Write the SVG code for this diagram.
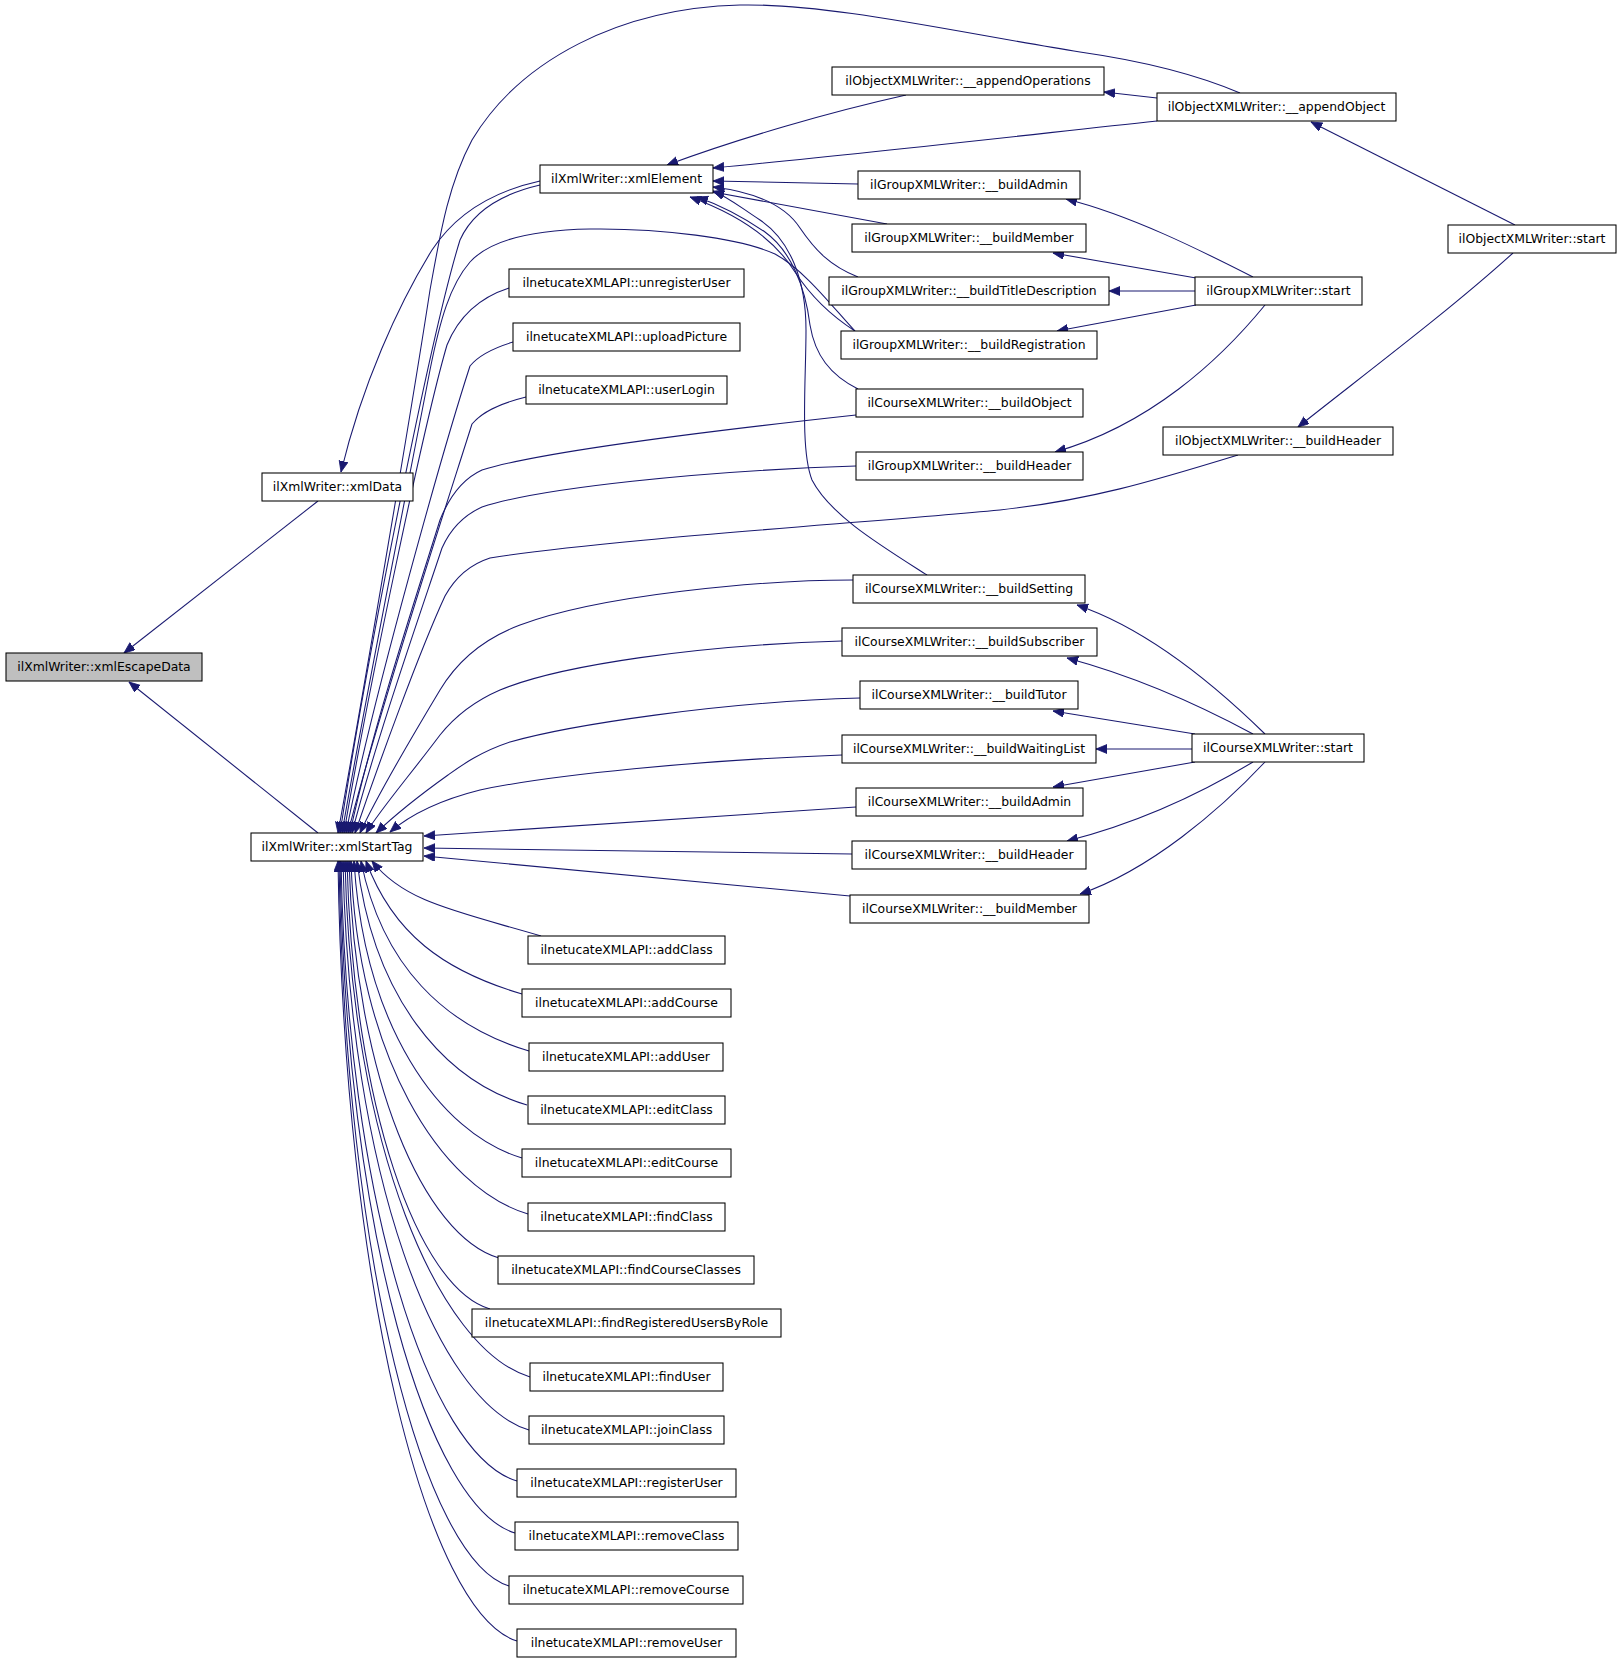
<svg xmlns="http://www.w3.org/2000/svg" width="1621" height="1663" viewBox="0 0 1621 1663">
<defs>
<marker id="ah" markerUnits="userSpaceOnUse" markerWidth="12" markerHeight="10" refX="11" refY="4.5" orient="auto"><path d="M0,0 L11,4.5 L0,9 z" fill="#191970" stroke="#191970" stroke-width="0.8"/></marker>
</defs>
<style>
.node rect{fill:#fff;stroke:#000;stroke-width:1.06}
.node.cur rect{fill:#bfbfbf}
.node text{font-family:"DejaVu Sans","Liberation Sans",sans-serif;font-size:12.4px;text-anchor:middle;fill:#000}
.edges path{fill:none;stroke:#191970;stroke-width:1.06;marker-end:url(#ah)}
</style>
<rect width="1621" height="1663" fill="#fff"/>
<g class="edges">
<path d="M318,501 L124,653"/>
<path d="M318,833 L129,682"/>
<path d="M540,181 C490,192 455,215 432,250 C398,305 362,385 341,472"/>
<path d="M540,185 C497,195 472,213 460,240 C432,330 368,650 340,833"/>
<path d="M1240,93 C1200,76 1150,62 1080,52 C960,33 830,3 740,5 C620,8 520,60 472,140 C448,185 440,235 430,290 C410,420 362,700 338,833"/>
<path d="M855,331 C835,310 805,270 775,254 C740,238 660,228 590,229 C530,230 490,240 470,262 C450,285 440,320 430,370 C405,500 365,700 342,833"/>
<path d="M509,288 C478,298 458,318 447,345 C425,420 368,690 344,833"/>
<path d="M513,342 C490,349 478,356 470,366 C446,440 372,700 346,833"/>
<path d="M526,397 C498,404 482,412 472,424 C448,500 376,720 348,833"/>
<path d="M856,415 C700,432 540,452 482,470 C460,480 448,500 440,520 C415,600 372,730 350,833"/>
<path d="M856,466 C700,471 540,488 482,507 C462,516 450,530 442,548 C418,620 376,740 352,833"/>
<path d="M1238,455 C1150,482 1090,500 1000,510 C850,524 600,540 490,558 C468,565 455,578 445,596 C420,650 380,760 355,833"/>
<path d="M853,580 C760,580 600,595 520,625 C480,640 455,665 440,690 C410,740 375,800 360,833"/>
<path d="M842,641 C700,645 560,665 500,690 C470,703 452,720 440,735 C410,775 380,810 366,833"/>
<path d="M860,698 C720,702 570,725 510,742 C480,752 462,765 448,775 C420,795 395,815 376,833"/>
<path d="M842,755 C700,760 550,775 480,790 C440,800 410,815 390,832"/>
<path d="M856,807 L424,836"/>
<path d="M852,854 L424,848"/>
<path d="M850,896 L424,856"/>
<path d="M541,936 C456,911 404,902 372,861"/>
<path d="M522,994 C444,971 393,934 366,861"/>
<path d="M529,1051 C445,1026 382,966 361,861"/>
<path d="M527,1105 C442,1080 373,995 357,861"/>
<path d="M522,1158 C438,1133 364,1024 354,861"/>
<path d="M528,1214 C440,1188 357,1055 351,861"/>
<path d="M499,1258 C424,1236 355,1079 349,861"/>
<path d="M490,1309 C418,1288 353,1107 347,861"/>
<path d="M530,1377 C438,1349 351,1145 345,861"/>
<path d="M529,1430 C436,1402 349,1174 343,861"/>
<path d="M517,1481 C429,1455 347,1202 341,861"/>
<path d="M515,1533 C428,1507 346,1231 340,861"/>
<path d="M509,1586 C424,1560 345,1260 339,861"/>
<path d="M517,1641 C428,1614 344,1290 338,861"/>
<path d="M906,95 C830,112 740,138 667,165"/>
<path d="M1157,121 C1000,138 850,155 713,168"/>
<path d="M858,184 L713,181"/>
<path d="M887,224 L713,192"/>
<path d="M858,277 C830,266 815,250 800,228 C785,205 755,192 713,187"/>
<path d="M855,331 C830,315 810,295 795,272 C775,240 740,215 690,197"/>
<path d="M858,389 C830,375 815,355 810,325 C805,285 790,250 765,232 C740,215 720,205 697,197"/>
<path d="M927,575 C880,545 830,515 812,480 C800,450 806,380 806,330 C806,280 790,240 760,220 C740,207 728,197 713,191"/>
<path d="M1157,98 L1104,92"/>
<path d="M1515,225 L1311,122"/>
<path d="M1513,253 C1450,310 1370,370 1298,427"/>
<path d="M1253,277 C1200,250 1130,215 1066,199"/>
<path d="M1196,278 L1053,253"/>
<path d="M1195,291 L1109,291"/>
<path d="M1196,305 L1057,331"/>
<path d="M1265,305 C1220,360 1150,425 1055,452"/>
<path d="M1265,734 C1220,690 1150,630 1077,605"/>
<path d="M1253,734 C1190,700 1130,675 1067,658"/>
<path d="M1195,734 L1053,711"/>
<path d="M1192,749 L1096,749"/>
<path d="M1195,762 L1053,787"/>
<path d="M1253,762 C1190,800 1130,825 1067,841"/>
<path d="M1265,762 C1220,810 1150,870 1080,894"/>
</g>
<g id="n_escape" class="node cur"><rect x="6" y="653" width="196" height="28"/><text x="104" y="671.4">ilXmlWriter::xmlEscapeData</text></g>
<g id="n_data" class="node"><rect x="262" y="473" width="151" height="28"/><text x="337.5" y="491.4">ilXmlWriter::xmlData</text></g>
<g id="n_start" class="node"><rect x="251" y="833" width="172" height="28"/><text x="337" y="851.4">ilXmlWriter::xmlStartTag</text></g>
<g id="n_elem" class="node"><rect x="540" y="165" width="173" height="28"/><text x="626.5" y="183.4">ilXmlWriter::xmlElement</text></g>
<g id="n_unreg" class="node"><rect x="509" y="269" width="235" height="28"/><text x="626.5" y="287.4">ilnetucateXMLAPI::unregisterUser</text></g>
<g id="n_upload" class="node"><rect x="513" y="323" width="227" height="28"/><text x="626.5" y="341.4">ilnetucateXMLAPI::uploadPicture</text></g>
<g id="n_login" class="node"><rect x="526" y="376" width="201" height="28"/><text x="626.5" y="394.4">ilnetucateXMLAPI::userLogin</text></g>
<g id="n_addClass" class="node"><rect x="528" y="936" width="197" height="28"/><text x="626.5" y="954.4">ilnetucateXMLAPI::addClass</text></g>
<g id="n_addCourse" class="node"><rect x="522" y="989" width="209" height="28"/><text x="626.5" y="1007.4">ilnetucateXMLAPI::addCourse</text></g>
<g id="n_addUser" class="node"><rect x="529" y="1043" width="194" height="28"/><text x="626" y="1061.4">ilnetucateXMLAPI::addUser</text></g>
<g id="n_editClass" class="node"><rect x="528" y="1096" width="197" height="28"/><text x="626.5" y="1114.4">ilnetucateXMLAPI::editClass</text></g>
<g id="n_editCourse" class="node"><rect x="522" y="1149" width="209" height="28"/><text x="626.5" y="1167.4">ilnetucateXMLAPI::editCourse</text></g>
<g id="n_findClass" class="node"><rect x="528" y="1203" width="197" height="28"/><text x="626.5" y="1221.4">ilnetucateXMLAPI::findClass</text></g>
<g id="n_findCourseClasses" class="node"><rect x="498" y="1256" width="256" height="28"/><text x="626" y="1274.4">ilnetucateXMLAPI::findCourseClasses</text></g>
<g id="n_findRegisteredUsersByRole" class="node"><rect x="472" y="1309" width="309" height="28"/><text x="626.5" y="1327.4">ilnetucateXMLAPI::findRegisteredUsersByRole</text></g>
<g id="n_findUser" class="node"><rect x="530" y="1363" width="193" height="28"/><text x="626.5" y="1381.4">ilnetucateXMLAPI::findUser</text></g>
<g id="n_joinClass" class="node"><rect x="529" y="1416" width="195" height="28"/><text x="626.5" y="1434.4">ilnetucateXMLAPI::joinClass</text></g>
<g id="n_registerUser" class="node"><rect x="517" y="1469" width="219" height="28"/><text x="626.5" y="1487.4">ilnetucateXMLAPI::registerUser</text></g>
<g id="n_removeClass" class="node"><rect x="515" y="1522" width="223" height="28"/><text x="626.5" y="1540.4">ilnetucateXMLAPI::removeClass</text></g>
<g id="n_removeCourse" class="node"><rect x="509" y="1576" width="234" height="28"/><text x="626" y="1594.4">ilnetucateXMLAPI::removeCourse</text></g>
<g id="n_removeUser" class="node"><rect x="517" y="1629" width="219" height="28"/><text x="626.5" y="1647.4">ilnetucateXMLAPI::removeUser</text></g>
<g id="n_appendOperations" class="node"><rect x="832" y="67" width="272" height="28"/><text x="968" y="85.4">ilObjectXMLWriter::__appendOperations</text></g>
<g id="n_appendObject" class="node"><rect x="1157" y="93" width="239" height="28"/><text x="1276.5" y="111.4">ilObjectXMLWriter::__appendObject</text></g>
<g id="n_objStart" class="node"><rect x="1448" y="225" width="168" height="28"/><text x="1532" y="243.4">ilObjectXMLWriter::start</text></g>
<g id="n_objBuildHeader" class="node"><rect x="1163" y="427" width="230" height="28"/><text x="1278" y="445.4">ilObjectXMLWriter::__buildHeader</text></g>
<g id="n_grpBuildAdmin" class="node"><rect x="858" y="171" width="222" height="28"/><text x="969" y="189.4">ilGroupXMLWriter::__buildAdmin</text></g>
<g id="n_grpBuildMember" class="node"><rect x="852" y="224" width="234" height="28"/><text x="969" y="242.4">ilGroupXMLWriter::__buildMember</text></g>
<g id="n_grpBuildTitleDescription" class="node"><rect x="829" y="277" width="280" height="28"/><text x="969" y="295.4">ilGroupXMLWriter::__buildTitleDescription</text></g>
<g id="n_grpBuildRegistration" class="node"><rect x="841" y="331" width="256" height="28"/><text x="969" y="349.4">ilGroupXMLWriter::__buildRegistration</text></g>
<g id="n_crsBuildObject" class="node"><rect x="856" y="389" width="227" height="28"/><text x="969.5" y="407.4">ilCourseXMLWriter::__buildObject</text></g>
<g id="n_grpBuildHeader" class="node"><rect x="856" y="452" width="227" height="28"/><text x="969.5" y="470.4">ilGroupXMLWriter::__buildHeader</text></g>
<g id="n_grpStart" class="node"><rect x="1195" y="277" width="167" height="28"/><text x="1278.5" y="295.4">ilGroupXMLWriter::start</text></g>
<g id="n_crsBuildSetting" class="node"><rect x="853" y="575" width="232" height="28"/><text x="969" y="593.4">ilCourseXMLWriter::__buildSetting</text></g>
<g id="n_crsBuildSubscriber" class="node"><rect x="842" y="628" width="255" height="28"/><text x="969.5" y="646.4">ilCourseXMLWriter::__buildSubscriber</text></g>
<g id="n_crsBuildTutor" class="node"><rect x="860" y="681" width="218" height="28"/><text x="969" y="699.4">ilCourseXMLWriter::__buildTutor</text></g>
<g id="n_crsBuildWaitingList" class="node"><rect x="842" y="735" width="254" height="28"/><text x="969" y="753.4">ilCourseXMLWriter::__buildWaitingList</text></g>
<g id="n_crsBuildAdmin" class="node"><rect x="856" y="788" width="227" height="28"/><text x="969.5" y="806.4">ilCourseXMLWriter::__buildAdmin</text></g>
<g id="n_crsBuildHeader" class="node"><rect x="852" y="841" width="234" height="28"/><text x="969" y="859.4">ilCourseXMLWriter::__buildHeader</text></g>
<g id="n_crsBuildMember" class="node"><rect x="850" y="895" width="239" height="28"/><text x="969.5" y="913.4">ilCourseXMLWriter::__buildMember</text></g>
<g id="n_crsStart" class="node"><rect x="1192" y="734" width="172" height="28"/><text x="1278" y="752.4">ilCourseXMLWriter::start</text></g>
</svg>
